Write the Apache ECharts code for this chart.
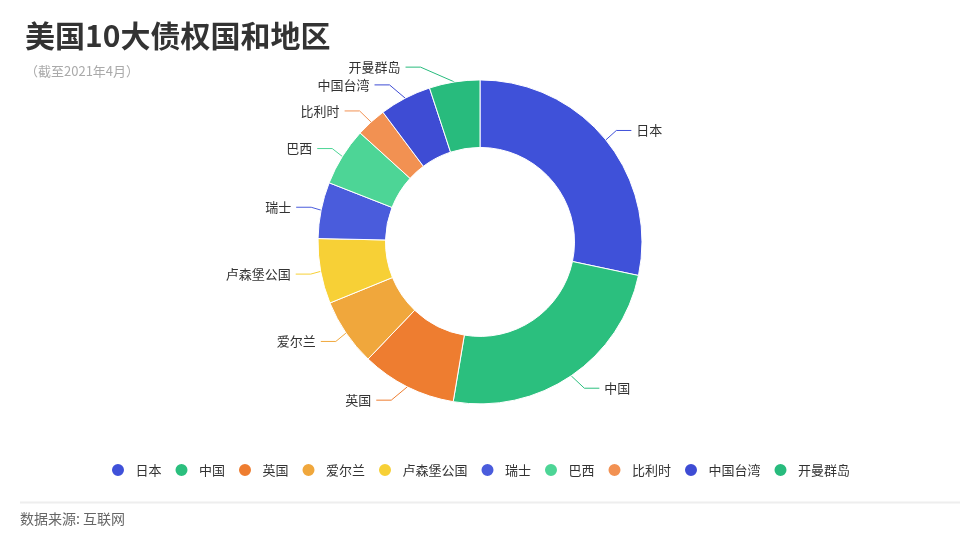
<!DOCTYPE html>
<html>
<head>
<meta charset="utf-8">
<script src="https://cdn.jsdelivr.net/npm/echarts@6/dist/echarts.min.js"></script>
<style>
html,body{margin:0;padding:0;background:#fff;}
#chart{width:960px;height:540px;}
</style>
</head>
<body>
<div id="chart"></div>
<script>
// 单位：十亿美元
const names = ['日本', '中国', '英国', '爱尔兰', '卢森堡公国', '瑞士', '巴西', '比利时', '中国台湾', '开曼群岛'];
const values = [1241, 1066, 416, 294, 284, 246, 254, 133, 227, 221];
const colors = ['#3f51d9', '#2bbf7e', '#ee7d30', '#f0a73c', '#f7d036', '#4a5cdc', '#4dd596', '#f29152', '#3e4cd4', '#28bb7d'];

const chart = echarts.init(document.getElementById('chart'));
const font = '"Noto Sans CJK SC", "Noto Sans", sans-serif';

const CENTER = [0.5, 0.448];
const RADIUS = [0.35, 0.60];
const LEN = 15, LEN2 = 15;

// Place outside labels on a circle of radius r + len + len2 (classic pie label style)
function labelLayout(params) {
  const pts = params.labelLinePoints;
  if (!pts) return {};
  const w = chart.getWidth(), h = chart.getHeight();
  const cx = w * CENTER[0], cy = h * CENTER[1];
  const r = RADIUS[1] * Math.min(w, h) / 2;
  const p0 = pts[0], p1 = pts[1];
  const dir = p1[0] < cx ? -1 : 1;
  const y = p1[1];
  const dy = Math.abs(y - cy);
  const R = r + LEN + LEN2;
  const dx = Math.sqrt(Math.max(R * R - dy * dy, 0));
  const tx = cx + dir * dx;
  const lineEnd = tx - dir * 5;
  return {
    x: tx,
    y: y,
    align: dir < 0 ? 'right' : 'left',
    verticalAlign: 'middle',
    labelLinePoints: [p0, [lineEnd - dir * LEN2, y], [lineEnd, y]]
  };
}

chart.setOption({
  animation: false,
  color: colors,
  textStyle: { fontFamily: font },
  title: {
    text: '美国10大债权国和地区',
    subtext: '（截至2021年4月）',
    left: 20,
    top: 16,
    itemGap: 14,
    textStyle: { fontSize: 30, fontWeight: 'bold', color: '#333', fontFamily: font },
    subtextStyle: { fontSize: 13, color: '#aaa', fontFamily: font }
  },
  legend: {
    bottom: 57,
    left: 'center',
    icon: 'circle',
    itemWidth: 25,
    itemHeight: 14,
    itemGap: 12,
    textStyle: { fontSize: 13, color: '#333', fontFamily: font },
    data: names
  },
  graphic: [
    { type: 'line', shape: { x1: 20, y1: 502.5, x2: 960, y2: 502.5 }, style: { stroke: '#eeeeee', lineWidth: 2 } },
    { type: 'text', left: 20, top: 512, style: { text: '数据来源: 互联网', fontSize: 14, fill: '#666', fontFamily: font } }
  ],
  series: [{
    type: 'pie',
    center: [CENTER[0] * 100 + '%', CENTER[1] * 100 + '%'],
    radius: [RADIUS[0] * 100 + '%', RADIUS[1] * 100 + '%'],
    startAngle: 90,
    itemStyle: { borderColor: '#fff', borderWidth: 1 },
    label: { show: true, formatter: '{b}', fontSize: 13, color: '#333' },
    labelLine: { length: LEN, length2: LEN2 },
    labelLayout: labelLayout,
    data: names.map((n, i) => ({ name: n, value: values[i] }))
  }]
});
</script>
</body>
</html>
